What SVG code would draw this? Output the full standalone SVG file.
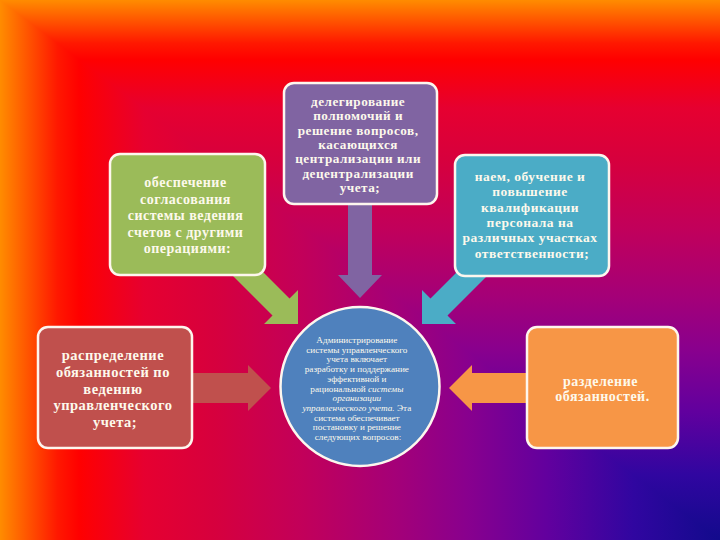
<svg xmlns="http://www.w3.org/2000/svg" width="720" height="540" viewBox="0 0 720 540">
<defs>
<linearGradient id="gv" gradientUnits="userSpaceOnUse" x1="0" y1="0" x2="0" y2="540">
<stop offset="0" stop-color="#ff8c00"/><stop offset="0.04" stop-color="#ff5200"/><stop offset="0.08" stop-color="#ff1800"/><stop offset="0.11" stop-color="#ff0000"/><stop offset="0.2" stop-color="#e60030"/><stop offset="0.3" stop-color="#d6003e"/><stop offset="0.42" stop-color="#c2005a"/><stop offset="0.55" stop-color="#a40078"/><stop offset="0.65" stop-color="#88008e"/><stop offset="0.76" stop-color="#62009e"/><stop offset="0.88" stop-color="#3006a0"/><stop offset="1" stop-color="#120a8c"/>
</linearGradient>
<linearGradient id="gh" gradientUnits="userSpaceOnUse" x1="0" y1="0" x2="720" y2="0">
<stop offset="0" stop-color="#ff8c00"/><stop offset="0.04" stop-color="#ff5200"/><stop offset="0.08" stop-color="#ff1800"/><stop offset="0.11" stop-color="#ff0000"/><stop offset="0.2" stop-color="#e60030"/><stop offset="0.3" stop-color="#d6003e"/><stop offset="0.42" stop-color="#c2005a"/><stop offset="0.55" stop-color="#a40078"/><stop offset="0.65" stop-color="#88008e"/><stop offset="0.76" stop-color="#62009e"/><stop offset="0.88" stop-color="#3006a0"/><stop offset="1" stop-color="#120a8c"/>
</linearGradient>
</defs>
<style>
.box{stroke:#fdf6ee;stroke-width:2.5}
.t{font-family:"Liberation Serif","Times New Roman",serif;font-weight:bold;fill:#fdf9ec;text-anchor:middle;letter-spacing:0.5px}
.c{font-family:"Liberation Serif","Times New Roman",serif;fill:#fdf9ec;text-anchor:middle;font-size:9.2px}
</style>
<rect x="0" y="0" width="720" height="540" fill="url(#gv)"/>
<polygon points="0,0 720,540 0,540" fill="url(#gh)"/>
<g id="connectors">
<polygon fill="#9bbb59" points="249.5,258.5 289.5,298.5 298,290 298,324 264,324 272.5,315.5 232.5,275.5"/>
<polygon fill="#4bacc6" points="470.5,258.5 430.5,298.5 422,290 422,324 456,324 447.5,315.5 487.5,275.5"/>
<polygon fill="#8064a2" points="348,200 372,200 372,275 382,275 360,298 338,275 348,275"/>
<polygon fill="#c0504d" points="188,373 248,373 248,365 271,388 248,411 248,403 188,403"/>
<polygon fill="#f79646" points="532,373 472,373 472,365 449,388 472,411 472,403 532,403"/>
</g>
<g id="node-top">
<rect class="box" x="284" y="83" width="153" height="121" rx="10" fill="#8064a2"/>
<text class="t" font-size="13.2">
<tspan x="360" y="106">делегирование</tspan>
<tspan x="360" y="120.3">полномочий и</tspan>
<tspan x="360" y="134.6">решение вопросов,</tspan>
<tspan x="360" y="148.9">касающихся</tspan>
<tspan x="360" y="163.2">централизации или</tspan>
<tspan x="360" y="177.5">децентрализации</tspan>
<tspan x="360" y="191.8">учета;</tspan>
</text>
</g>
<g id="node-left-top">
<rect class="box" x="110" y="154" width="155" height="121" rx="10" fill="#9bbb59"/>
<text class="t" font-size="14">
<tspan x="187.5" y="187">обеспечение</tspan>
<tspan x="187.5" y="203.5">согласования</tspan>
<tspan x="187.5" y="220">системы ведения</tspan>
<tspan x="187.5" y="236.5">счетов с другими</tspan>
<tspan x="187.5" y="253">операциями:</tspan>
</text>
</g>
<g id="node-right-top">
<rect class="box" x="455" y="155" width="154" height="121" rx="10" fill="#4bacc6"/>
<text class="t" font-size="13.5">
<tspan x="532" y="181">наем, обучение и</tspan>
<tspan x="532" y="196.3">повышение</tspan>
<tspan x="532" y="211.6">квалификации</tspan>
<tspan x="532" y="226.9">персонала на</tspan>
<tspan x="532" y="242.2">различных участках</tspan>
<tspan x="532" y="257.5">ответственности;</tspan>
</text>
</g>
<g id="node-left">
<rect class="box" x="38" y="327" width="154" height="121" rx="10" fill="#c0504d"/>
<text class="t" font-size="14.5">
<tspan x="115" y="360">распределение</tspan>
<tspan x="115" y="376.8">обязанностей по</tspan>
<tspan x="115" y="393.6">ведению</tspan>
<tspan x="115" y="410.4">управленческого</tspan>
<tspan x="115" y="427.2">учета;</tspan>
</text>
</g>
<g id="node-right">
<rect class="box" x="527" y="327" width="151" height="121" rx="10" fill="#f79646"/>
<text class="t" font-size="14">
<tspan x="602.5" y="386">разделение</tspan>
<tspan x="602.5" y="401">обязанностей.</tspan>
</text>
</g>
<g id="node-center">
<circle cx="360" cy="386.5" r="79.5" fill="#4f81bd" stroke="#fdf6ee" stroke-width="2.5"/>
<text class="c">
<tspan x="358" y="343">Администрирование</tspan>
<tspan x="358" y="352.7">системы управленческого</tspan>
<tspan x="358" y="362.4">учета включает</tspan>
<tspan x="358" y="372.1">разработку и поддержание</tspan>
<tspan x="358" y="381.8">эффективной и</tspan>
<tspan x="358" y="391.5">рациональной <tspan font-style="italic">системы</tspan></tspan>
<tspan x="358" y="401.2" font-style="italic">организации</tspan>
<tspan x="358" y="410.9"><tspan font-style="italic">управленческого учета.</tspan> Эта</tspan>
<tspan x="358" y="420.6">система обеспечивает</tspan>
<tspan x="358" y="430.3">постановку и решение</tspan>
<tspan x="358" y="440">следующих вопросов:</tspan>
</text>
</g>
</svg>
